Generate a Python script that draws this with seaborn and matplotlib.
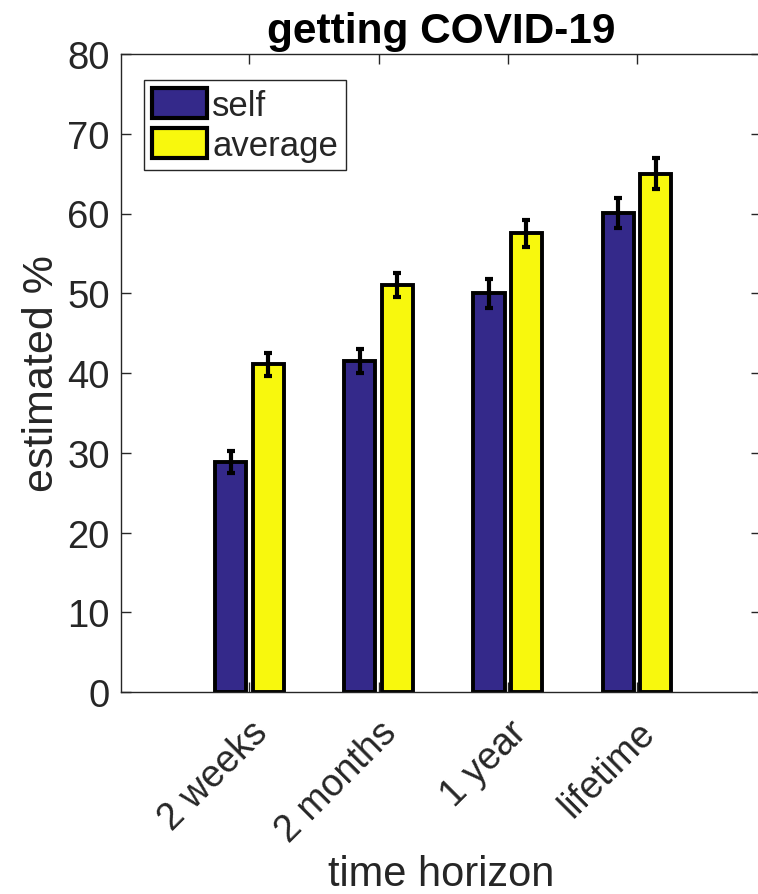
import matplotlib
matplotlib.use("Agg")
import matplotlib.pyplot as plt
import seaborn as sns
import pandas as pd
import numpy as np

categories = ["2 weeks", "2 months", "1 year", "lifetime"]
series = ["self", "average"]
self_vals = [28.8, 41.5, 50.0, 60.1]
avg_vals = [41.1, 51.0, 57.5, 65.0]
self_err = [1.4, 1.5, 1.8, 1.9]
avg_err = [1.45, 1.5, 1.7, 1.9]
yticks = [0, 10, 20, 30, 40, 50, 60, 70, 80]

sns.set_theme(style="ticks")
plt.rcParams['font.family'] = ['Liberation Sans', 'DejaVu Sans']

df = pd.DataFrame({
    "horizon": categories * 2,
    "group": ["self"] * 4 + ["average"] * 4,
    "value": self_vals + avg_vals,
    "err": self_err + avg_err,
})

W, H = 758, 895
fig = plt.figure(figsize=(W / 100, H / 100), dpi=100)
ax = fig.add_axes([121 / W, (H - 693) / H, 640 / W, (693 - 55) / H])

palette = {"self": "#34298A", "average": "#F8F80D"}
sns.barplot(data=df, x="horizon", y="value", hue="group", order=categories,
            hue_order=series, palette=palette, width=0.58, gap=0.17,
            edgecolor="black", linewidth=2.8, errorbar=None, ax=ax, saturation=1)

# error bars at bar centres
for patch, (val, err) in zip(ax.patches[:8], zip(self_vals + avg_vals, self_err + avg_err)):
    cx = patch.get_x() + patch.get_width() / 2
    ax.errorbar(cx, patch.get_height(), yerr=err, color="black", elinewidth=3,
                capsize=3, capthick=3, zorder=5)

ax.set_xlim(-0.995, 3.961)
ax.set_ylim(0, 80)
ax.set_yticks(yticks)
ax.tick_params(axis="both", direction="in", length=7, width=1, colors="#262626",
               top=True, right=True)
ax.tick_params(axis="y", labelsize=27.5, pad=8)
ax.tick_params(axis="x", pad=16)
for lab in ax.get_yticklabels():
    lab.set_color("#262626")
ax.set_xticks(range(len(categories)))
ax.set_xticklabels(categories, rotation=45, ha="right", rotation_mode="anchor",
                   fontsize=27, color="#262626")
for s in ax.spines.values():
    s.set_color("#262626")
    s.set_linewidth(1)
ax.spines["right"].set_visible(False)

ax.set_xlabel("time horizon", fontsize=30, color="#262626", labelpad=4)
ax.set_ylabel("estimated %", fontsize=31, color="#262626", labelpad=4)
ax.set_title("getting COVID-19", fontsize=30.5, fontweight="bold", color="black", pad=9)

leg = ax.legend(loc="upper left", bbox_to_anchor=(23 / 640, 1 - 26 / 638), fontsize=25,
                frameon=True, fancybox=False, edgecolor="#262626", framealpha=1,
                handlelength=1.6, handleheight=0.95, handletextpad=0.15,
                borderpad=0.22, labelspacing=0.2, borderaxespad=0)
leg.get_frame().set_linewidth(1)
for h in leg.legend_handles:
    h.set_edgecolor("black")
    h.set_linewidth(3)

fig.savefig("out.png", dpi=100)
